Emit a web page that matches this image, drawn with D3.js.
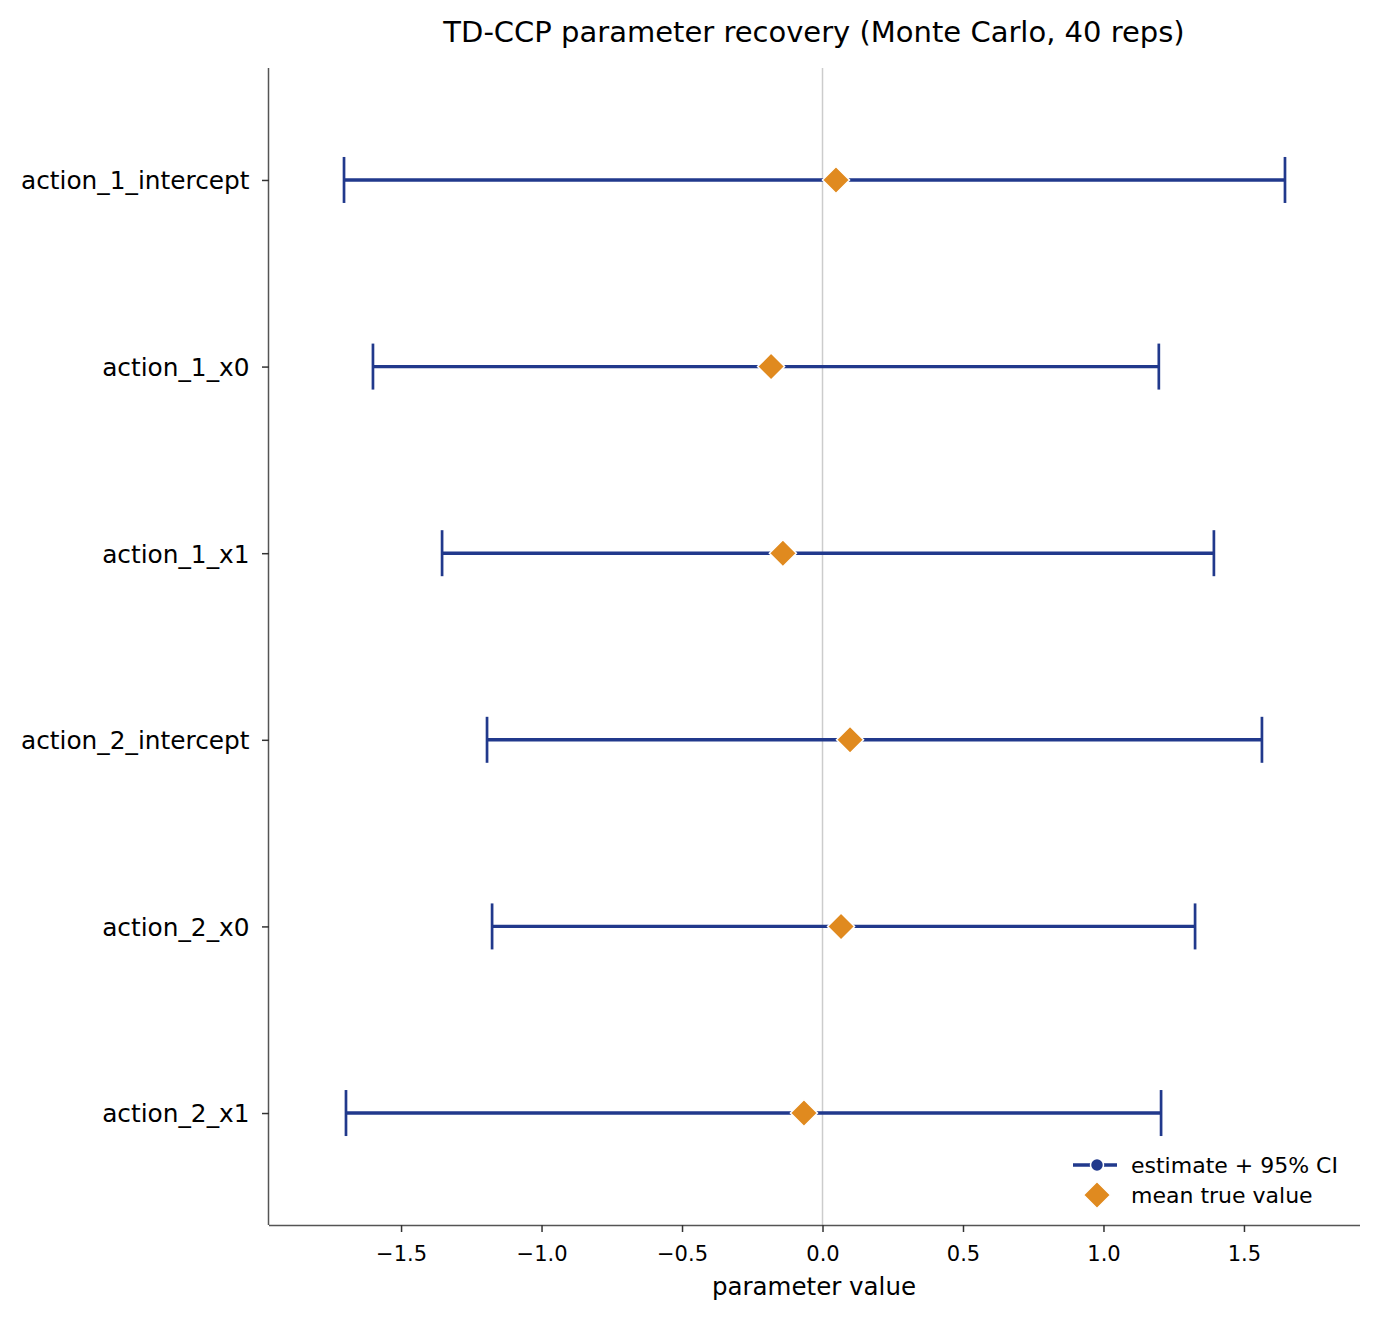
<!DOCTYPE html>
<html><head><meta charset="utf-8">
<script src="https://cdn.jsdelivr.net/npm/d3@7"></script>
<style>body{margin:0;background:#fff}text{font-family:"DejaVu Sans",sans-serif}</style>
</head><body><svg id="c" width="1380" height="1319"></svg>
<script>
const params = ["action_1_intercept","action_1_x0","action_1_x1","action_2_intercept","action_2_x0","action_2_x1"];
const ciLow = [-1.703,-1.600,-1.354,-1.194,-1.176,-1.696];
const ciHigh = [1.646,1.197,1.393,1.564,1.326,1.205];
const estimate = [0.048,-0.183,-0.141,0.098,0.066,-0.066];
const trueMean = [0.048,-0.183,-0.141,0.098,0.066,-0.066];
const xTicks = [-1.5,-1.0,-0.5,0.0,0.5,1.0,1.5];

const blue = "#21398c", orange = "#e08a1f";
const svg = d3.select("#c");
const L=269,R=1360,T=68,B=1225;
const x = d3.scaleLinear().domain([-1.970,1.913]).range([L,R]);
const y = d3.scaleLinear().domain([-0.6,5.6]).range([T,B]);

// zero line
svg.append("line").attr("x1",x(0)).attr("x2",x(0)).attr("y1",T).attr("y2",B)
  .attr("stroke","#cccccc").attr("stroke-width",1.5);

const rows = svg.append("g").selectAll("g").data(params).join("g");
rows.append("line").attr("x1",(d,i)=>x(ciLow[i])).attr("x2",(d,i)=>x(ciHigh[i]))
  .attr("y1",(d,i)=>y(i)).attr("y2",(d,i)=>y(i)).attr("stroke",blue).attr("stroke-width",3.4);
rows.append("line").attr("x1",(d,i)=>x(ciLow[i])).attr("x2",(d,i)=>x(ciLow[i]))
  .attr("y1",(d,i)=>y(i)-23).attr("y2",(d,i)=>y(i)+23).attr("stroke",blue).attr("stroke-width",2.7);
rows.append("line").attr("x1",(d,i)=>x(ciHigh[i])).attr("x2",(d,i)=>x(ciHigh[i]))
  .attr("y1",(d,i)=>y(i)-23).attr("y2",(d,i)=>y(i)+23).attr("stroke",blue).attr("stroke-width",2.7);
rows.append("circle").attr("cx",(d,i)=>x(estimate[i])).attr("cy",(d,i)=>y(i)).attr("r",6).attr("fill",blue);
const dm = 13.5;
rows.append("path").attr("d",(d,i)=>{const cx=x(trueMean[i]),cy=y(i);return `M${cx},${cy-dm}L${cx+dm},${cy}L${cx},${cy+dm}L${cx-dm},${cy}Z`;})
  .attr("fill",orange).attr("stroke","#fff").attr("stroke-width",1.5);

// axes
const xa = svg.append("g").attr("transform",`translate(0,${B})`)
  .call(d3.axisBottom(x).tickValues(xTicks).tickFormat(d3.format(".1f")).tickSize(7).tickPadding(14));
const ya = svg.append("g").attr("transform",`translate(${L},0)`)
  .call(d3.axisLeft(y).tickValues(d3.range(params.length)).tickFormat(i=>params[i]).tickSize(7).tickPadding(12.5));
[xa,ya].forEach(a=>{a.select(".domain").attr("stroke","#555").attr("stroke-width",1.5);
  a.selectAll(".tick line").attr("stroke","#333").attr("stroke-width",1.5);
  a.selectAll("text").attr("fill","#000").style("font-family","DejaVu Sans");});
xa.selectAll("text").attr("font-size",21);
ya.selectAll("text").attr("font-size",24.8).attr("dy","0.36em");
xa.select(".domain").attr("d",`M${L},0.5H${R}`);
ya.select(".domain").attr("d",`M-0.5,${T}V${B}`);

svg.append("text").attr("x",814).attr("y",42).attr("text-anchor","middle").attr("font-size",29).text("TD-CCP parameter recovery (Monte Carlo, 40 reps)");
svg.append("text").attr("x",814).attr("y",1295).attr("text-anchor","middle").attr("font-size",24.5).text("parameter value");

// legend
const lg = svg.append("g");
lg.append("line").attr("x1",1073).attr("x2",1117).attr("y1",1165).attr("y2",1165).attr("stroke",blue).attr("stroke-width",3.4);
lg.append("circle").attr("cx",1097).attr("cy",1165).attr("r",6.5).attr("fill",blue).attr("stroke","#fff").attr("stroke-width",1.5);
lg.append("path").attr("d",`M1097,${1195-dm}L${1097+dm},1195L1097,${1195+dm}L${1097-dm},1195Z`).attr("fill",orange).attr("stroke","#fff").attr("stroke-width",1.5);
lg.append("text").attr("x",1131).attr("y",1173).attr("font-size",22).text("estimate + 95% CI");
lg.append("text").attr("x",1131).attr("y",1203).attr("font-size",22).text("mean true value");
</script></body></html>
